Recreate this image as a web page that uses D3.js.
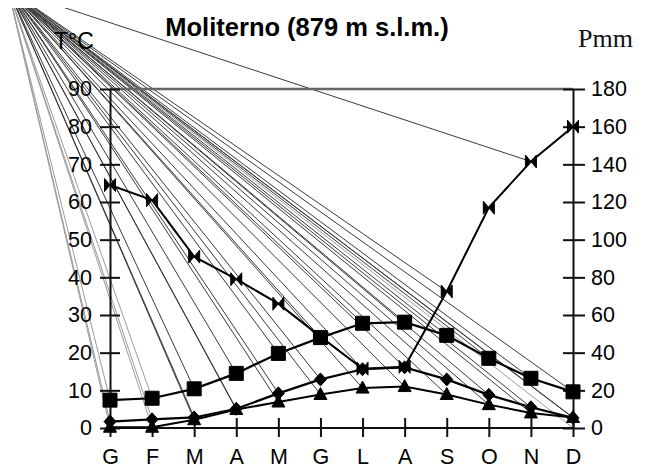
<!DOCTYPE html>
<html>
<head>
<meta charset="utf-8">
<script src="https://cdn.jsdelivr.net/npm/d3@7"></script>
<style>
  body { margin: 0; background: #fff; }
  svg { display: block; font-family: "Liberation Sans", Arial, sans-serif; }
</style>
</head>
<body>
<div id="chart"></div>
<script>
// Monthly data (Moliterno)
const months = ["G", "F", "M", "A", "M", "G", "L", "A", "S", "O", "N", "D"];
const tMax = [7.4, 7.9, 10.4, 14.5, 19.8, 24, 27.8, 28.1, 24.6, 18.5, 13.2, 9.6];
const tMean = [1.7, 2.3, 2.8, 5.1, 9.2, 12.9, 15.6, 16.1, 12.9, 8.8, 5.5, 2.7];
const tMin = [0.2, 0.2, 2.2, 4.9, 6.9, 8.9, 10.6, 11, 8.9, 6.2, 4, 2.8];
const precip = [129, 121, 91, 79, 66, 48.5, 31.5, 32.5, 72.5, 117, 141.5, 160];
const tempTicks = [0, 10, 20, 30, 40, 50, 60, 70, 80, 90];
const precipTicks = [0, 20, 40, 60, 80, 100, 120, 140, 160, 180];

const width = 647;
const height = 468;
const plotLeft = 110, plotRight = 573, plotTop = 89, plotBottom = 428;

const x = d3.scalePoint()
    .domain(d3.range(months.length))
    .range([plotLeft, plotRight]);

const yT = d3.scaleLinear().domain([0, 90]).range([plotBottom, plotTop]);
const yP = d3.scaleLinear().domain([0, 180]).range([plotBottom, plotTop]);

const svg = d3.select("#chart").append("svg")
    .attr("width", width)
    .attr("height", height)
    .attr("viewBox", [0, 0, width, height]);

// Stray guide lines fanning out from the top-left corner
svg.append("clipPath").attr("id", "fanclip")
  .append("rect").attr("x", 0).attr("y", 8).attr("width", width).attr("height", height);

const fanOrigin = [8, -11];
const fanTargets = [];
[tMax, tMean, tMin].forEach(s => s.forEach((v, i) => fanTargets.push({ i, px: x(i), py: yT(v) })));
[8, 10].forEach(i => fanTargets.push({ i, px: x(i), py: yP(precip[i]) }));
fanTargets.push({ i: 0, px: x(11), py: yT(0), light: true });

svg.append("g")
    .attr("clip-path", "url(#fanclip)")
  .selectAll("line")
  .data(fanTargets)
  .join("line")
    .attr("x1", fanOrigin[0])
    .attr("y1", fanOrigin[1])
    .attr("x2", d => d.px)
    .attr("y2", d => d.py)
    .attr("stroke", d => (d.i < 2 || d.light) ? "#9a9a9a" : "#3a3a3a")
    .attr("stroke-width", 1);

// top border at 90
svg.append("line")
    .attr("x1", plotLeft).attr("x2", plotRight)
    .attr("y1", yT(90)).attr("y2", yT(90))
    .attr("stroke", "#666")
    .attr("stroke-width", 2.5);

// Axes
const axisFont = g => g.selectAll("text")
    .attr("font-size", 21.5)
    .attr("fill", "#000")
    .attr("font-family", "Liberation Sans, Arial, sans-serif");

svg.append("g")
    .attr("transform", `translate(${plotLeft},0)`)
    .call(d3.axisLeft(yT).tickValues(tempTicks).tickSize(10).tickSizeOuter(0).tickPadding(8))
    .call(g => g.selectAll(".tick line").attr("x1", 10))
    .call(g => g.selectAll("line, path").attr("stroke", "#111").attr("stroke-width", 2))
    .call(axisFont);

svg.append("g")
    .attr("transform", `translate(${plotRight},0)`)
    .call(d3.axisRight(yP).tickValues(precipTicks).tickSize(12).tickSizeOuter(0).tickPadding(6))
    .call(g => g.selectAll(".tick line").attr("x1", -10))
    .call(g => g.selectAll("line, path").attr("stroke", "#111").attr("stroke-width", 2))
    .call(axisFont);

svg.append("g")
    .attr("transform", `translate(0,${plotBottom})`)
    .call(d3.axisBottom(x).tickFormat(i => months[i]).tickSize(9).tickSizeOuter(0).tickPadding(12))
    .call(g => g.selectAll(".tick line").attr("y1", -10))
    .call(g => g.select(".domain").attr("d", `M${plotLeft},0H${plotRight}`))
    .call(g => g.selectAll("line, path").attr("stroke", "#111").attr("stroke-width", 2))
    .call(axisFont);

// Marker shapes
const shapes = {
  square: "M-7,-7H7V7H-7Z",
  diamond: "M0,-6.5L6,0L0,6.5L-6,0Z",
  triangle: "M0,-7L6.5,5L-6.5,5Z",
  bowtie: "M-5.5,-6.5L0,0L-5.5,6.5ZM5.5,-6.5L0,0L5.5,6.5Z"
};

function drawSeries(values, y, shape, lw) {
  const line = d3.line().x((d, i) => x(i)).y(d => y(d));
  svg.append("path")
      .datum(values)
      .attr("fill", "none")
      .attr("stroke", "#000")
      .attr("stroke-width", lw)
      .attr("d", line);
  svg.append("g")
    .selectAll("path")
    .data(values)
    .join("path")
      .attr("transform", (d, i) => `translate(${x(i)},${y(d)})`)
      .attr("d", shapes[shape])
      .attr("fill", "#000")
      .attr("stroke", "#000")
      .attr("stroke-width", 1);
}

drawSeries(tMin, yT, "triangle", 2);
drawSeries(tMean, yT, "diamond", 2.2);
drawSeries(precip, yP, "bowtie", 2);
drawSeries(tMax, yT, "square", 2.2);

// Titles
svg.append("text")
    .attr("x", 307).attr("y", 36)
    .attr("text-anchor", "middle")
    .attr("font-size", 25.5)
    .attr("font-weight", "bold")
    .attr("fill", "#000")
    .text("Moliterno (879 m s.l.m.)");

svg.append("text")
    .attr("x", 54).attr("y", 49)
    .attr("font-size", 23)
    .attr("fill", "#000")
    .text("T°C");

svg.append("text")
    .attr("x", 578).attr("y", 47)
    .attr("font-size", 26)
    .attr("font-family", "Liberation Serif, 'Times New Roman', serif")
    .attr("fill", "#111")
    .text("Pmm");
</script>
</body>
</html>
